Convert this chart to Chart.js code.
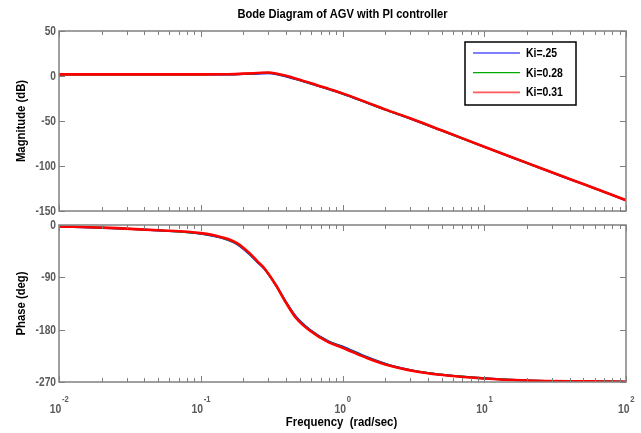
<!DOCTYPE html>
<html lang="en">
<head>
  <meta charset="UTF-8">
  <title>Bode Diagram of AGV with PI controller</title>
  <script src="https://cdn.jsdelivr.net/npm/chart.js"></script>
  <style>
    body { margin: 0; background: #fff; }
    .painel { position: absolute; left: 0; top: 0; }
  </style>
</head>
<body>
  <canvas id="graficoMag" class="painel" width="641" height="433"></canvas>
  <canvas id="graficoFase" class="painel" width="641" height="433"></canvas>
<script>
// frequencias (rad/sec) e respostas lidas para cada Ki
const freqMag = [0.01, 0.05, 0.1, 0.15, 0.2, 0.25, 0.3, 0.35, 0.4, 0.5, 0.6, 0.8, 1, 1.5, 2, 3, 5, 10, 20, 36, 50, 100];
const magKi25 = [1.8, 1.8, 1.8, 1.8, 2.2, 2.6, 3.0, 1.7, -0.5, -4.9, -8.6, -14.8, -19.7, -30.0, -37.4, -47.4, -60.6, -78.8, -96.7, -111.9, -120.2, -138.1];
const magKi28 = [1.8, 1.8, 1.8, 1.85, 2.4, 3.0, 3.5, 2.0, -0.1, -4.6, -8.3, -14.5, -19.5, -29.8, -37.3, -47.2, -60.5, -78.7, -96.6, -111.8, -120.1, -138.0];
const magKi31 = [1.8, 1.8, 1.8, 1.9, 2.6, 3.3, 3.9, 2.3, 0.2, -4.3, -8.0, -14.3, -19.3, -29.6, -37.1, -47.0, -60.3, -78.6, -96.5, -111.7, -120.0, -138.0];

const freqFase = [0.01, 0.02, 0.05, 0.1, 0.14, 0.18, 0.22, 0.25, 0.28, 0.34, 0.4, 0.47, 0.59, 0.8, 1, 1.5, 2.16, 4, 10, 20, 50, 100];
const faseKi25 = [-2.6, -4.7, -9.4, -14.9, -22.2, -32.8, -50, -63.5, -75, -104, -132.5, -157.5, -180, -200, -209, -227.5, -241, -254.5, -263.5, -267.3, -268.9, -269.5];
const faseKi28 = [-2.55, -4.6, -9.2, -14.5, -21.6, -32, -49, -62.8, -74.5, -104, -133.2, -158.7, -181, -201, -210, -228.2, -241.5, -254.7, -263.7, -267.4, -269, -269.5];
const faseKi31 = [-2.5, -4.5, -9.0, -14.0, -21, -31, -48, -62, -74, -104, -134, -160, -182, -202, -211, -229, -242, -255, -264, -267.5, -269, -269.5];

const rotulos = ['Ki=.25', 'Ki=0.28', 'Ki=0.31'];
const cores = ['#0000ff', '#00a800', '#ff0000'];
const ticksMag = [-150, -100, -50, 0, 50];
const ticksFase = [-270, -180, -90, 0];
const decadas = [-2, -1, 0, 1, 2];

const FONTE = '"Liberation Sans", Arial, sans-serif';
const CINZA = '#808080';

function pontos(freq, valores) {
  return freq.map((f, i) => ({ x: f, y: valores[i] }));
}

function montarDatasets(freq, series) {
  return series.map((s, i) => ({
    label: rotulos[i],
    data: pontos(freq, s),
    borderColor: cores[i],
    borderWidth: i === 2 ? 2.6 : 2,
    pointRadius: 0,
    fill: false,
    order: 2 - i,   // vermelho por cima
    cubicInterpolationMode: 'monotone'
  }));
}

// texto um pouco condensado na horizontal (fonte estreita)
function texto(ctx, str, x, y, tam, cor, esc, alinh, base) {
  ctx.save();
  ctx.translate(x, y);
  ctx.scale(esc, 1);
  ctx.font = 'bold ' + tam + 'px ' + FONTE;
  ctx.fillStyle = cor;
  ctx.textAlign = alinh || 'center';
  ctx.textBaseline = base || 'middle';
  ctx.fillText(str, 0, 0);
  ctx.restore();
}

function larguraTexto(ctx, str, tam, esc) {
  ctx.save();
  ctx.font = 'bold ' + tam + 'px ' + FONTE;
  const w = ctx.measureText(str).width * esc;
  ctx.restore();
  return w;
}

// moldura, ticks para dentro e rotulos do eixo y
function desenharMoldura(chart, ticksY, mostrarX) {
  const ctx = chart.ctx;
  const area = chart.chartArea;
  const sx = chart.scales.x;
  const sy = chart.scales.y;
  ctx.save();
  ctx.strokeStyle = CINZA;
  ctx.lineWidth = 1;
  // ticks de x (decadas e intermediarios)
  for (let d = -2; d <= 2; d++) {
    for (let m = 1; m <= 9; m++) {
      const v = m * Math.pow(10, d);
      if (v > 100) break;
      const px = Math.round(sx.getPixelForValue(v)) + 0.5;
      const len = m === 1 ? 6 : 4;
      ctx.beginPath();
      ctx.moveTo(px, area.bottom); ctx.lineTo(px, area.bottom - len);
      ctx.moveTo(px, area.top); ctx.lineTo(px, area.top + len);
      ctx.stroke();
    }
  }
  // ticks de y
  ticksY.forEach(t => {
    const py = Math.round(sy.getPixelForValue(t)) + 0.5;
    ctx.beginPath();
    ctx.moveTo(area.left, py); ctx.lineTo(area.left + 6, py);
    ctx.moveTo(area.right, py); ctx.lineTo(area.right - 6, py);
    ctx.stroke();
    texto(ctx, String(t), area.left - 3, py, 12, '#5a5a5a', 0.85, 'right');
  });
  ctx.lineWidth = 1.5;
  ctx.strokeRect(area.left, area.top, area.right - area.left, area.bottom - area.top);

  if (mostrarX) {
    decadas.forEach(d => {
      const px = sx.getPixelForValue(Math.pow(10, d));
      const wBase = larguraTexto(ctx, '10', 13, 0.8);
      const wExp = larguraTexto(ctx, String(d), 9, 0.85);
      const x0 = px - (wBase + wExp) / 2;
      texto(ctx, '10', x0, area.bottom + 31, 13, '#5a5a5a', 0.8, 'left', 'alphabetic');
      texto(ctx, String(d), x0 + wBase + 0.5, area.bottom + 19.5, 9, '#5a5a5a', 0.85, 'left', 'alphabetic');
    });
  }
  ctx.restore();
}

function tituloY(ctx, str, x, y) {
  ctx.save();
  ctx.translate(x, y);
  ctx.rotate(-Math.PI / 2);
  texto(ctx, str, 0, 0, 12, '#000', 0.94);
  ctx.restore();
}

const molduraMag = {
  id: 'molduraMag',
  afterDraw(chart) {
    const ctx = chart.ctx;
    const area = chart.chartArea;
    desenharMoldura(chart, ticksMag, false);
    texto(ctx, 'Bode Diagram of AGV with PI controller', (area.left + area.right) / 2, 15, 12, '#000', 0.93);
    tituloY(ctx, 'Magnitude (dB)', 22, (area.top + area.bottom) / 2);

    // legenda
    ctx.save();
    ctx.fillStyle = '#fff';
    ctx.fillRect(465, 42, 111, 63);
    ctx.strokeStyle = '#000';
    ctx.lineWidth = 1.5;
    ctx.strokeRect(465, 42, 111, 63);
    rotulos.forEach((r, i) => {
      const y = 53 + i * 19.7;
      ctx.strokeStyle = i === 2 ? '#ff5a5a' : cores[i];
      ctx.lineWidth = i === 2 ? 1.8 : 1.2;
      ctx.beginPath();
      ctx.moveTo(473, y); ctx.lineTo(520, y);
      ctx.stroke();
      texto(ctx, r, 526, y + 0.5, 12, '#000', 0.87, 'left');
    });
    ctx.restore();
  }
};

const molduraFase = {
  id: 'molduraFase',
  afterDraw(chart) {
    const ctx = chart.ctx;
    const area = chart.chartArea;
    desenharMoldura(chart, ticksFase, true);
    tituloY(ctx, 'Phase (deg)', 22, (area.top + area.bottom) / 2);
    texto(ctx, 'Frequency  (rad/sec)', (area.left + area.right) / 2 - 1, 423, 12, '#000', 0.95);
  }
};

function opcoes(padding, yMin, yMax) {
  return {
    responsive: false,
    animation: false,
    devicePixelRatio: 1,
    layout: { padding: padding },
    plugins: { legend: { display: false }, title: { display: false }, tooltip: { enabled: false } },
    scales: {
      x: { type: 'logarithmic', min: 0.01, max: 100, display: false },
      y: { type: 'linear', min: yMin, max: yMax, display: false }
    }
  };
}

new Chart(document.getElementById('graficoMag'), {
  type: 'line',
  data: { datasets: montarDatasets(freqMag, [magKi25, magKi28, magKi31]) },
  options: opcoes({ left: 59, right: 15, top: 31, bottom: 222 }, -150, 50),
  plugins: [molduraMag]
});

new Chart(document.getElementById('graficoFase'), {
  type: 'line',
  data: { datasets: montarDatasets(freqFase, [faseKi25, faseKi28, faseKi31]) },
  options: opcoes({ left: 59, right: 15, top: 225, bottom: 51 }, -270, 0),
  plugins: [molduraFase]
});
</script>
</body>
</html>
